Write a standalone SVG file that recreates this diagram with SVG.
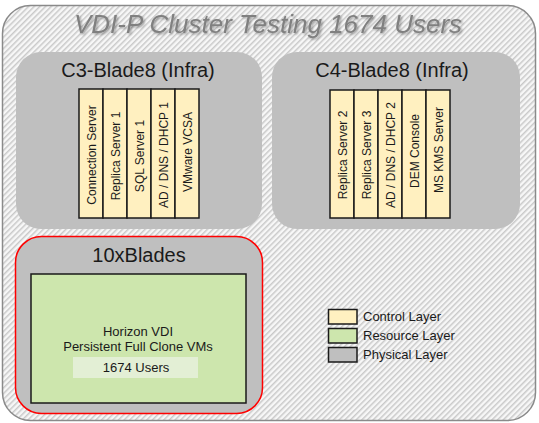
<svg xmlns="http://www.w3.org/2000/svg" width="539" height="423" viewBox="0 0 539 423">
<defs>
<pattern id="hatch" patternUnits="userSpaceOnUse" width="4" height="4" patternTransform="rotate(45)">
<rect width="4" height="4" fill="#f7f7f7"/>
<rect x="0" y="0" width="1.5" height="4" fill="#c9c9c9"/>
</pattern>
<filter id="shadow" x="-5%" y="-30%" width="110%" height="160%">
<feDropShadow dx="1.5" dy="1.5" stdDeviation="1" flood-color="#000" flood-opacity="0.35"/>
</filter>
</defs>
<style>
text{font-family:"Liberation Sans",Arial,sans-serif;fill:#1a1a1a}
.phys{fill:#bfbfbf}
.ctrl{fill:#fff0c0;stroke:#1a1a1a;stroke-width:1.5}
.res{fill:#cde6ad;stroke:#1a1a1a;stroke-width:1.5}
.hdr{font-size:20px;text-anchor:middle}
.vm{font-size:12px;text-anchor:middle}
.lbl{font-size:13px}
.leg{stroke:#1a1a1a;stroke-width:1.5}
</style>
<rect width="539" height="423" fill="#ffffff"/>
<g id="cluster">
<rect x="2.5" y="5.5" width="533" height="415" rx="28" fill="url(#hatch)" stroke="#8a8a8a" stroke-width="1.5"/>
<text x="268" y="33" font-size="26" font-style="italic" text-anchor="middle" style="fill:#808080" filter="url(#shadow)">VDI-P Cluster Testing 1674 Users</text>
</g>
<g id="c3">
<rect class="phys" x="16" y="52" width="246" height="177" rx="25"/>
<text class="hdr" x="138" y="77">C3-Blade8 (Infra)</text>
<rect class="ctrl" x="79" y="89" width="24" height="129"/>
<rect class="ctrl" x="103" y="89" width="24" height="129"/>
<rect class="ctrl" x="127" y="89" width="24" height="129"/>
<rect class="ctrl" x="151" y="89" width="24" height="129"/>
<rect class="ctrl" x="175" y="89" width="24" height="129"/>
<text class="vm" transform="translate(95.5,155) rotate(-90)">Connection Server</text>
<text class="vm" transform="translate(119.5,156) rotate(-90)">Replica Server 1</text>
<text class="vm" transform="translate(143.5,156) rotate(-90)">SQL Server 1</text>
<text class="vm" transform="translate(167.5,155) rotate(-90)">AD / DNS / DHCP 1</text>
<text class="vm" transform="translate(191.5,152) rotate(-90)">VMware VCSA</text>
</g>
<g id="c4">
<rect class="phys" x="272" y="52" width="248" height="177" rx="25"/>
<text class="hdr" x="392" y="77">C4-Blade8 (Infra)</text>
<rect class="ctrl" x="330" y="90" width="24" height="128"/>
<rect class="ctrl" x="354" y="90" width="24" height="128"/>
<rect class="ctrl" x="378" y="90" width="24" height="128"/>
<rect class="ctrl" x="402" y="90" width="24" height="128"/>
<rect class="ctrl" x="426" y="90" width="24" height="128"/>
<text class="vm" transform="translate(346.5,155) rotate(-90)">Replica Server 2</text>
<text class="vm" transform="translate(370.5,155) rotate(-90)">Replica Server 3</text>
<text class="vm" transform="translate(394.5,155) rotate(-90)">AD / DNS / DHCP 2</text>
<text class="vm" transform="translate(418.5,151) rotate(-90)">DEM Console</text>
<text class="vm" transform="translate(442.5,150) rotate(-90)">MS KMS Server</text>
</g>
<g id="blades">
<rect class="phys" x="15.5" y="236.5" width="247" height="177" rx="26" stroke="#ff0000" stroke-width="1.5"/>
<text class="hdr" x="139" y="262">10xBlades</text>
<rect class="res" x="31" y="274" width="215" height="129"/>
<text class="lbl" x="138" y="336" text-anchor="middle">Horizon VDI</text>
<text class="lbl" x="138" y="351" text-anchor="middle">Persistent Full Clone VMs</text>
<rect x="73" y="357" width="125" height="21" fill="#e3efd5"/>
<text class="lbl" x="136" y="372" text-anchor="middle">1674 Users</text>
</g>
<g id="legend">
<rect class="leg" x="328.5" y="309.5" width="28.5" height="14.5" fill="#fff0c0"/>
<rect class="leg" x="328.5" y="328.5" width="28.5" height="14.5" fill="#cde6ad"/>
<rect class="leg" x="328.5" y="347.5" width="28.5" height="14.5" fill="#bfbfbf"/>
<text class="lbl" x="363" y="321">Control Layer</text>
<text class="lbl" x="363" y="340">Resource Layer</text>
<text class="lbl" x="363" y="359">Physical Layer</text>
</g>
<g id="connectors"/>
</svg>
